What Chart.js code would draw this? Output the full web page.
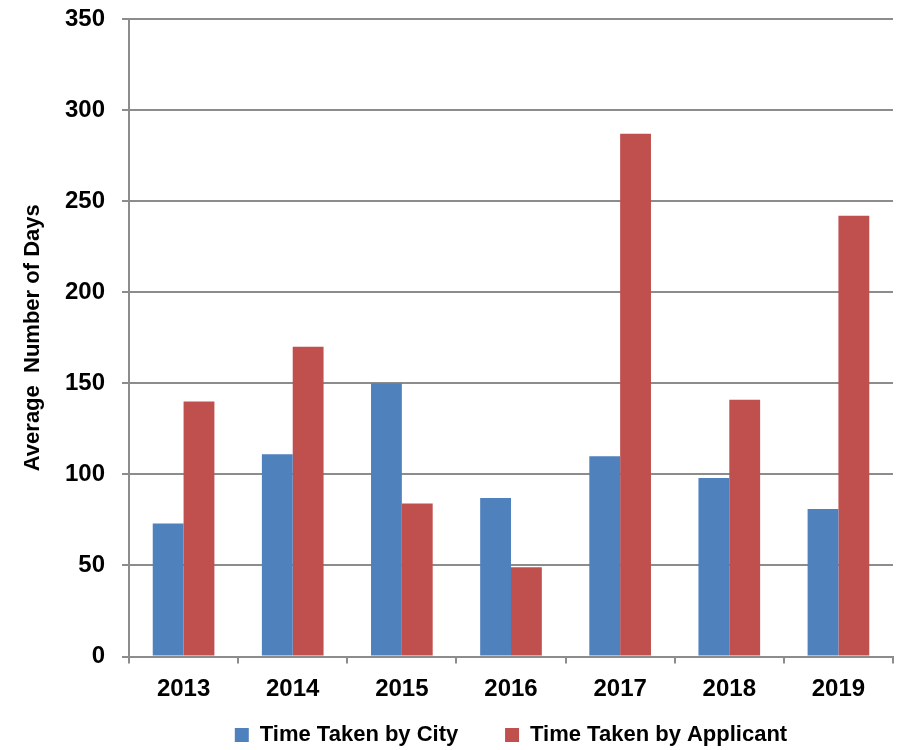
<!DOCTYPE html>
<html><head><meta charset="utf-8">
<script src="https://cdn.jsdelivr.net/npm/chart.js@4"></script>
<style>html,body{margin:0;padding:0;background:#fff}#wrap{width:901px;height:750px}</style>
</head><body><div id="wrap"><canvas id="c" width="901" height="750"></canvas></div>
<script>
const categories = ['2013','2014','2015','2016','2017','2018','2019'];
const cityDays = [73, 111, 150, 87, 110, 98, 81];
const applicantDays = [140, 170, 84, 49, 287, 141, 242];
const yTicks = [0, 50, 100, 150, 200, 250, 300, 350];
const seriesNames = ['Time Taken by City', 'Time Taken by Applicant'];
const yTitle = 'Average  Number of Days';

const gridGray = '#8c8c8c';
const tickFont = {family: 'Liberation Sans', size: 24, weight: 'bold'};

new Chart(document.getElementById('c'), {
  type: 'bar',
  data: {
    labels: categories,
    datasets: [
      {label: seriesNames[0], data: cityDays, backgroundColor: '#4F81BD', borderWidth: 0,
       categoryPercentage: 0.565, barPercentage: 1.0},
      {label: seriesNames[1], data: applicantDays, backgroundColor: '#C0504D', borderWidth: 0,
       categoryPercentage: 0.565, barPercentage: 1.0}
    ]
  },
  options: {
    responsive: false,
    animation: false,
    devicePixelRatio: 1,
    layout: {padding: {left: 20, right: 8, top: 19, bottom: 0}},
    plugins: {
      tooltip: {enabled: false},
      legend: {
        position: 'bottom',
        fullSize: false,
        maxHeight: 30,
        labels: {
          boxWidth: 14, boxHeight: 14, padding: 4, color: '#000',
          font: {family: 'Liberation Sans', size: 22, weight: 'bold'},
          generateLabels(chart) {
            const items = Chart.defaults.plugins.legend.labels.generateLabels(chart);
            items[0].text = items[0].text + '       ';
            return items;
          }
        }
      }
    },
    scales: {
      x: {
        grid: {display: true, drawOnChartArea: false, drawTicks: true, tickLength: 7,
               color: gridGray, lineWidth: 2, offset: true},
        border: {display: true, color: gridGray, width: 2},
        ticks: {padding: 11, color: '#000', font: tickFont, maxRotation: 0},
        afterFit(s) { s.height = 63.5; }
      },
      y: {
        min: 0, max: 350,
        afterBuildTicks(s) { s.ticks = yTicks.map(v => ({value: v})); },
        ticks: {padding: 17, color: '#000', font: tickFont},
        grid: {color: gridGray, lineWidth: 2, tickLength: 7},
        border: {display: true, color: gridGray, width: 2},
        title: {display: true, text: yTitle, color: '#000',
                font: {family: 'Liberation Sans', size: 22, weight: 'bold'}, padding: {top: 0, bottom: 0}},
        afterFit(s) { s.width = 109; s.paddingTop = 0; s.paddingBottom = 0; }
      }
    }
  }
});
</script>
</body></html>
